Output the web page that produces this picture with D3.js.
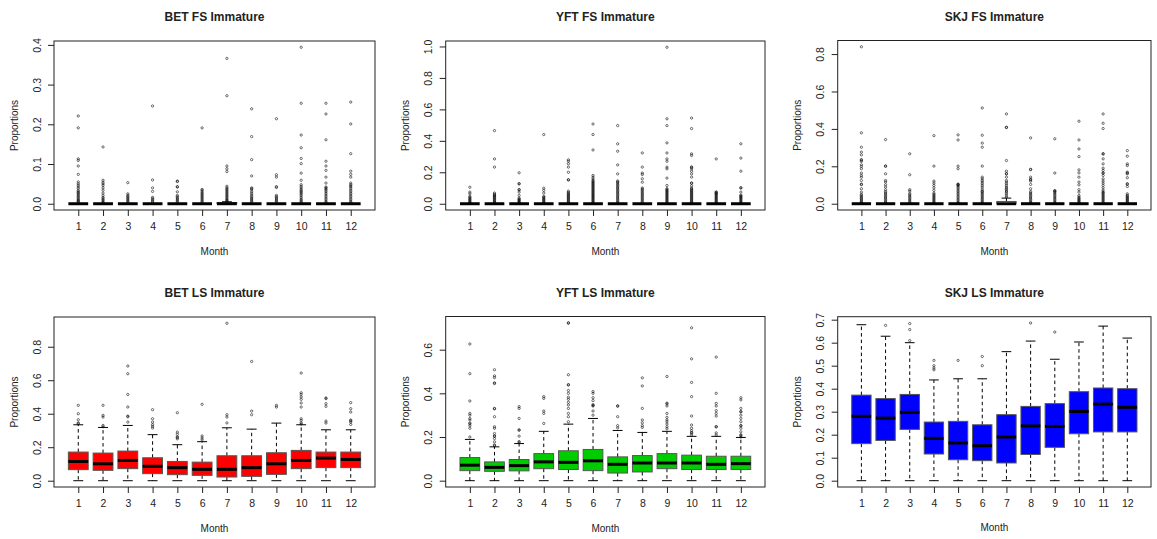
<!DOCTYPE html>
<html>
<head>
<meta charset="utf-8">
<script src="https://cdn.jsdelivr.net/npm/d3@7/dist/d3.min.js"></script>
<style>
  html, body { margin: 0; padding: 0; background: #fff; }
  svg { display: block; }
  text { font-family: "Liberation Sans", Arial, sans-serif; fill: #222; }
</style>
</head>
<body>
<svg id="chart" width="1157" height="539"></svg>
<script>
// Month categories shared by all six panels
const months = [1, 2, 3, 4, 5, 6, 7, 8, 9, 10, 11, 12];

// Box statistics per month: [lower whisker, Q1, median, Q3, upper whisker]
const betFsStats = [
  [0,0,0,0,0],[0,0,0,0,0],[0,0,0,0,0],[0,0,0,0,0],[0,0,0,0,0],[0,0,0,0,0],
  [0,0,0,0.003,0.005],[0,0,0,0,0],[0,0,0,0,0],[0,0,0,0,0],[0,0,0,0,0],[0,0,0,0,0]
];
const betFsOut = [
  [0.221,0.191,0.113,0.109,0.095,0.074,0.055,0.05,0.046,0.042,0.038,0.033,0.03,0.028,0.025,0.022,0.019,0.016,0.013,0.01,0.008,0.006,0.004],
  [0.143,0.059,0.054,0.05,0.046,0.04,0.034,0.027,0.021,0.016,0.013,0.01,0.007,0.004,0.002],
  [0.053,0.025,0.021,0.018,0.015,0.012,0.009,0.006,0.003],
  [0.246,0.06,0.04,0.031,0.016,0.013,0.01,0.007,0.004],
  [0.057,0.056,0.043,0.042,0.03,0.021,0.018,0.015,0.012,0.009,0.006,0.003],
  [0.191,0.036,0.034,0.03,0.027,0.024,0.021,0.018,0.015,0.012,0.009,0.006,0.003],
  [0.366,0.272,0.095,0.088,0.081,0.044,0.04,0.037,0.034,0.031,0.028,0.025,0.022,0.019,0.016,0.013,0.01,0.008,0.006],
  [0.239,0.169,0.111,0.07,0.04,0.038,0.035,0.03,0.026,0.022,0.018,0.015,0.012,0.009,0.006,0.003],
  [0.214,0.073,0.067,0.043,0.041,0.021,0.018,0.015,0.012,0.009,0.006,0.003],
  [0.394,0.253,0.173,0.141,0.114,0.101,0.077,0.059,0.048,0.044,0.04,0.036,0.033,0.03,0.027,0.024,0.02,0.016,0.012,0.009,0.006,0.003],
  [0.253,0.226,0.161,0.107,0.095,0.084,0.067,0.052,0.042,0.04,0.037,0.034,0.03,0.026,0.022,0.018,0.014,0.01,0.006,0.003],
  [0.256,0.201,0.126,0.082,0.074,0.067,0.052,0.048,0.045,0.042,0.038,0.034,0.03,0.026,0.022,0.018,0.014,0.01,0.006,0.003]
];

const yftFsStats = [
  [0,0,0,0,0],[0,0,0,0,0],[0,0,0,0,0],[0,0,0,0,0],[0,0,0,0,0],[0,0,0,0,0],
  [0,0,0,0,0],[0,0,0,0,0],[0,0,0,0,0],[0,0,0,0,0],[0,0,0,0,0],[0,0,0,0,0]
];
const yftFsOut = [
  [0.105,0.074,0.063,0.047,0.04,0.034,0.028,0.022,0.016,0.01,0.005],
  [0.465,0.285,0.233,0.068,0.06,0.055,0.05,0.045,0.04,0.034,0.028,0.022,0.016,0.01,0.005],
  [0.197,0.128,0.126,0.09,0.088,0.074,0.053,0.036,0.03,0.025,0.02,0.015,0.01,0.005],
  [0.44,0.099,0.085,0.068,0.047,0.042,0.036,0.03,0.024,0.018,0.012,0.006],
  [0.279,0.27,0.254,0.233,0.2,0.153,0.151,0.08,0.072,0.066,0.06,0.054,0.048,0.042,0.036,0.03,0.024,0.018,0.012,0.006],
  [0.507,0.44,0.342,0.18,0.169,0.158,0.148,0.142,0.136,0.13,0.124,0.118,0.112,0.106,0.1,0.094,0.088,0.082,0.076,0.07,0.064,0.058,0.052,0.046,0.04,0.034,0.028,0.022,0.016,0.01,0.005],
  [0.497,0.381,0.334,0.247,0.19,0.145,0.139,0.132,0.124,0.116,0.108,0.1,0.092,0.084,0.076,0.068,0.06,0.052,0.044,0.036,0.028,0.02,0.012,0.005],
  [0.323,0.233,0.195,0.186,0.159,0.137,0.1,0.094,0.086,0.078,0.07,0.062,0.054,0.046,0.038,0.03,0.022,0.014,0.006],
  [0.995,0.54,0.497,0.387,0.323,0.285,0.27,0.233,0.222,0.163,0.116,0.096,0.09,0.084,0.078,0.072,0.066,0.06,0.054,0.048,0.042,0.036,0.03,0.024,0.018,0.012,0.006],
  [0.545,0.478,0.317,0.307,0.234,0.231,0.222,0.207,0.19,0.169,0.132,0.13,0.114,0.1,0.094,0.088,0.082,0.076,0.07,0.064,0.058,0.052,0.046,0.04,0.034,0.028,0.022,0.016,0.01,0.005],
  [0.285,0.075,0.072,0.068,0.063,0.058,0.052,0.046,0.04,0.034,0.028,0.022,0.016,0.01,0.005],
  [0.381,0.29,0.207,0.102,0.1,0.074,0.055,0.05,0.045,0.04,0.034,0.028,0.022,0.016,0.01,0.005]
];

const skjFsStats = [
  [0,0,0,0,0],[0,0,0,0,0],[0,0,0,0,0],[0,0,0,0,0],[0,0,0,0,0],[0,0,0,0,0],
  [0,0,0,0.012,0.03],[0,0,0,0,0],[0,0,0,0,0],[0,0,0,0,0],[0,0,0,0,0],[0,0,0,0,0]
];
const skjFsOut = [
  [0.839,0.379,0.302,0.276,0.261,0.236,0.232,0.226,0.208,0.199,0.187,0.164,0.151,0.142,0.124,0.105,0.102,0.08,0.062,0.05,0.044,0.038,0.032,0.026,0.02,0.014,0.008,0.003],
  [0.343,0.202,0.2,0.16,0.124,0.116,0.101,0.089,0.075,0.065,0.058,0.051,0.044,0.037,0.03,0.023,0.016,0.009,0.003],
  [0.267,0.155,0.075,0.068,0.055,0.048,0.041,0.034,0.027,0.02,0.013,0.006],
  [0.364,0.201,0.121,0.11,0.098,0.085,0.071,0.057,0.05,0.044,0.038,0.032,0.026,0.02,0.014,0.008,0.003],
  [0.368,0.341,0.201,0.187,0.105,0.103,0.1,0.095,0.088,0.08,0.072,0.064,0.056,0.048,0.04,0.032,0.024,0.016,0.008,0.003],
  [0.512,0.366,0.324,0.302,0.201,0.142,0.133,0.124,0.116,0.107,0.098,0.089,0.078,0.068,0.065,0.058,0.051,0.044,0.037,0.03,0.023,0.016,0.009,0.003],
  [0.48,0.409,0.407,0.231,0.174,0.161,0.159,0.142,0.124,0.116,0.107,0.098,0.089,0.082,0.076,0.068,0.062,0.053,0.044,0.036],
  [0.352,0.184,0.182,0.142,0.131,0.128,0.121,0.103,0.08,0.065,0.058,0.051,0.044,0.037,0.03,0.023,0.016,0.009,0.003],
  [0.347,0.164,0.07,0.068,0.065,0.058,0.051,0.044,0.037,0.03,0.023,0.016,0.009,0.003],
  [0.441,0.341,0.293,0.252,0.181,0.165,0.142,0.116,0.101,0.075,0.062,0.044,0.036,0.03,0.025,0.02,0.015,0.01,0.005],
  [0.48,0.43,0.402,0.268,0.265,0.24,0.213,0.19,0.178,0.165,0.163,0.151,0.133,0.121,0.11,0.098,0.085,0.073,0.063,0.06,0.054,0.048,0.042,0.036,0.03,0.024,0.018,0.012,0.006],
  [0.284,0.254,0.213,0.204,0.169,0.164,0.16,0.139,0.107,0.104,0.092,0.053,0.045,0.04,0.035,0.03,0.025,0.02,0.015,0.01,0.005]
];

const betLsStats = [
  [0,0.066,0.115,0.171,0.334],[0,0.062,0.101,0.165,0.318],[0,0.072,0.121,0.177,0.33],
  [0,0.042,0.086,0.137,0.275],[0,0.036,0.078,0.115,0.215],[0,0.032,0.068,0.111,0.233],
  [0,0.022,0.068,0.149,0.316],[0,0.026,0.078,0.149,0.308],[0,0.038,0.101,0.167,0.344],
  [0,0.072,0.121,0.181,0.334],[0,0.078,0.135,0.171,0.304],[0,0.078,0.127,0.171,0.304]
];
const betLsOut = [
  [0.45,0.4,0.364,0.345,0.341],
  [0.45,0.39,0.38,0.33,0.322],
  [0.685,0.639,0.515,0.44,0.386,0.382,0.35],
  [0.424,0.37,0.35,0.335,0.325,0.315],
  [0.406,0.29,0.277,0.262,0.258,0.25],
  [0.456,0.267,0.255,0.244],
  [0.94,0.394,0.38,0.345],
  [0.712,0.416,0.394],
  [0.45,0.44],
  [0.643,0.525,0.515,0.5,0.486,0.464,0.44,0.37,0.36,0.345,0.338],
  [0.494,0.49,0.46,0.444,0.356,0.344],
  [0.466,0.43,0.41,0.362,0.358,0.35,0.336]
];

const yftLsStats = [
  [0,0.046,0.071,0.106,0.189],[0,0.043,0.061,0.086,0.155],[0,0.045,0.069,0.097,0.17],
  [0,0.055,0.086,0.124,0.226],[0,0.051,0.084,0.137,0.259],[0,0.046,0.091,0.143,0.285],
  [0,0.035,0.075,0.109,0.23],[0,0.04,0.081,0.115,0.221],[0,0.055,0.081,0.124,0.226],
  [0,0.051,0.081,0.117,0.203],[0,0.051,0.075,0.112,0.203],[0,0.051,0.078,0.112,0.198]
];
const yftLsOut = [
  [0.626,0.49,0.365,0.308,0.3,0.285,0.278,0.264,0.26,0.252,0.24,0.2],
  [0.508,0.48,0.472,0.448,0.445,0.331,0.329,0.293,0.247,0.24,0.216,0.205,0.203,0.193,0.178,0.164,0.16],
  [0.339,0.331,0.285,0.233,0.231,0.204,0.179,0.176],
  [0.385,0.377,0.319,0.308,0.262],
  [0.723,0.721,0.485,0.44,0.438,0.413,0.4,0.382,0.373,0.359,0.347,0.331,0.308,0.293,0.27],
  [0.408,0.4,0.38,0.367,0.348,0.345,0.342,0.319,0.3],
  [0.343,0.341,0.293,0.252,0.242],
  [0.471,0.434,0.331,0.278,0.265,0.252,0.244],
  [0.477,0.355,0.352,0.342,0.308,0.29,0.278,0.27,0.259,0.247,0.238],
  [0.7,0.558,0.45,0.385,0.296,0.255,0.24,0.229,0.221,0.218,0.21],
  [0.566,0.4,0.354,0.342,0.321,0.308,0.296,0.248,0.246,0.219,0.209],
  [0.38,0.37,0.331,0.317,0.315,0.3,0.285,0.27,0.253,0.251,0.24,0.224,0.21,0.207,0.2]
];

const skjLsStats = [
  [0,0.161,0.28,0.372,0.678],[0,0.175,0.272,0.357,0.628],[0,0.223,0.297,0.375,0.6],
  [0,0.116,0.184,0.255,0.438],[0,0.091,0.164,0.258,0.443],[0,0.087,0.152,0.243,0.443],
  [0,0.077,0.19,0.287,0.561],[0,0.114,0.238,0.323,0.607],[0,0.145,0.236,0.335,0.528],
  [0,0.204,0.301,0.387,0.603],[0,0.212,0.333,0.403,0.672],[0,0.212,0.319,0.4,0.62]
];
const skjLsOut = [
  [],[0.675],[0.683,0.657,0.609],[0.523,0.5,0.49,0.482],[0.523],[0.54,0.5],
  [],[0.6855],[0.646],[],[],[]
];

// Y tick values per panel
const ticksBetFs = [0, 0.1, 0.2, 0.3, 0.4];
const ticksYftFs = [0, 0.2, 0.4, 0.6, 0.8, 1.0];
const ticksSkjFs = [0, 0.2, 0.4, 0.6, 0.8];
const ticksBetLs = [0, 0.2, 0.4, 0.6, 0.8];
const ticksYftLs = [0, 0.2, 0.4, 0.6];
const ticksSkjLs = [0, 0.1, 0.2, 0.3, 0.4, 0.5, 0.6, 0.7];

const panels = [
  { title: "BET FS Immature", stats: betFsStats, out: betFsOut, ticks: ticksBetFs, fill: "none",    box: [54, 41, 375, 210] },
  { title: "YFT FS Immature", stats: yftFsStats, out: yftFsOut, ticks: ticksYftFs, fill: "none",    box: [445.7, 41, 765, 210] },
  { title: "SKJ FS Immature", stats: skjFsStats, out: skjFsOut, ticks: ticksSkjFs, fill: "none",    box: [837.7, 40.5, 1151, 210] },
  { title: "BET LS Immature", stats: betLsStats, out: betLsOut, ticks: ticksBetLs, fill: "#ff0000", box: [54, 317, 375, 487] },
  { title: "YFT LS Immature", stats: yftLsStats, out: yftLsOut, ticks: ticksYftLs, fill: "#00cd00", box: [445.7, 316.5, 765, 487] },
  { title: "SKJ LS Immature", stats: skjLsStats, out: skjLsOut, ticks: ticksSkjLs, fill: "#0000ff", box: [837.7, 316.7, 1151, 487] }
];

const svg = d3.select("#chart");
const fmt = d3.format(".1f");

panels.forEach(p => {
  const [x0, y0, x1, y1] = p.box;
  const w = x1 - x0, h = y1 - y0;
  const g = svg.append("g").attr("transform", `translate(${x0},${y0})`);

  // R-style ranges: data extent padded by 4% on each side
  const allVals = p.stats.flat().concat(p.out.flat());
  const lo = d3.min(allVals), hi = d3.max(allVals);
  const pad = (hi - lo) * 0.04;
  const y = d3.scaleLinear().domain([lo - pad, hi + pad]).range([h, 0]);
  const x = d3.scaleLinear().domain([0.5 - 0.48, 12.5 + 0.48]).range([0, w]);

  const step = x(2) - x(1);
  const halfBox = step * 0.8 / 2;
  const halfStaple = halfBox / 2;

  const boxes = g.selectAll("g.bx").data(months).join("g").attr("class", "bx")
    .attr("transform", m => `translate(${x(m)},0)`);

  // dashed whiskers
  boxes.append("line")
    .attr("y1", (m, i) => y(p.stats[i][3])).attr("y2", (m, i) => y(p.stats[i][4]))
    .attr("stroke", "#000").attr("stroke-width", 1).attr("stroke-dasharray", "3.5,3");
  boxes.append("line")
    .attr("y1", (m, i) => y(p.stats[i][1])).attr("y2", (m, i) => y(p.stats[i][0]))
    .attr("stroke", "#000").attr("stroke-width", 1).attr("stroke-dasharray", "3.5,3");
  // staples
  [0, 4].forEach(k => {
    boxes.append("line")
      .attr("x1", -halfStaple).attr("x2", halfStaple)
      .attr("y1", (m, i) => y(p.stats[i][k])).attr("y2", (m, i) => y(p.stats[i][k]))
      .attr("stroke", "#000").attr("stroke-width", 1);
  });
  // boxes
  boxes.append("rect")
    .attr("x", -halfBox).attr("width", halfBox * 2)
    .attr("y", (m, i) => y(p.stats[i][3]))
    .attr("height", (m, i) => Math.max(0, y(p.stats[i][1]) - y(p.stats[i][3])))
    .attr("fill", p.fill).attr("stroke", "#555").attr("stroke-width", 1);
  // medians
  boxes.append("line")
    .attr("x1", -halfBox).attr("x2", halfBox)
    .attr("y1", (m, i) => y(p.stats[i][2])).attr("y2", (m, i) => y(p.stats[i][2]))
    .attr("stroke", "#000").attr("stroke-width", 3);
  // outliers: translucent strokes so crowded runs darken
  boxes.each(function (m, i) {
    d3.select(this).selectAll("circle").data(p.out[i]).join("circle")
      .attr("cx", 0).attr("cy", v => y(v)).attr("r", 1.15)
      .attr("fill", "none").attr("stroke", "#000").attr("stroke-opacity", 0.55)
      .attr("stroke-width", 1);
  });

  // frame
  g.append("rect").attr("width", w).attr("height", h)
    .attr("fill", "none").attr("stroke", "#222").attr("stroke-width", 1);

  // x axis
  const xa = g.append("g").attr("transform", `translate(0,${h})`)
    .call(d3.axisBottom(x).tickValues(months).tickSize(6).tickPadding(7).tickFormat(d3.format("d")));
  xa.select(".domain").remove();
  xa.selectAll("line").attr("stroke", "#222");
  xa.selectAll("text").attr("font-size", "10.5px").attr("fill", "#222")
    .attr("font-family", "Liberation Sans, Arial, sans-serif");

  // y axis with labels parallel to the axis
  const ya = g.append("g")
    .call(d3.axisLeft(y).tickValues(p.ticks).tickSize(6).tickFormat(fmt));
  ya.select(".domain").remove();
  ya.selectAll("line").attr("stroke", "#222");
  ya.selectAll("text")
    .attr("x", null).attr("dy", "0.35em")
    .attr("transform", "translate(-17,0) rotate(-90)")
    .attr("text-anchor", "middle")
    .attr("font-size", "10.5px").attr("fill", "#222")
    .attr("font-family", "Liberation Sans, Arial, sans-serif");

  // titles
  g.append("text").attr("x", w / 2).attr("y", -24).attr("dy", "0.35em")
    .attr("text-anchor", "middle").attr("font-size", "12px").attr("font-weight", "bold")
    .text(p.title);
  g.append("text").attr("x", w / 2).attr("y", h + 41).attr("dy", "0.35em")
    .attr("text-anchor", "middle").attr("font-size", "10px")
    .text("Month");
  g.append("text")
    .attr("transform", `translate(-40,${h / 2}) rotate(-90)`).attr("dy", "0.35em")
    .attr("text-anchor", "middle").attr("font-size", "10px")
    .text("Proportions");
});
</script>
</body>
</html>
